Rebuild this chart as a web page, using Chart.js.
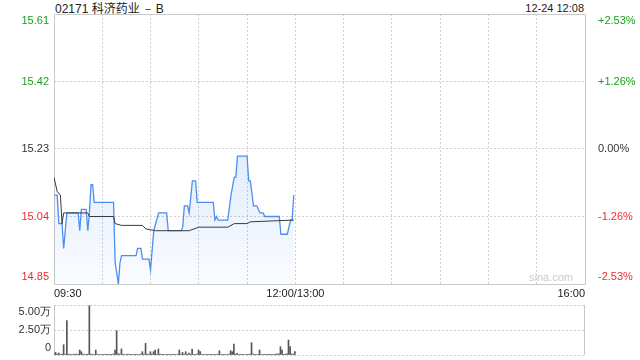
<!DOCTYPE html>
<html>
<head>
<meta charset="utf-8">
<script src="https://cdn.jsdelivr.net/npm/chart.js@4.4.1/dist/chart.umd.min.js"></script>
<style>
  body { margin: 0; background: #fff; width: 640px; height: 360px; overflow: hidden; position: relative;
         font-family: "Liberation Sans", Arial, sans-serif; }
  canvas { position: absolute; left: 0; }
  #price { top: 0; }
  #vol { top: 300px; }
  .hd { position: absolute; top: 0; line-height: 16px; color: #222; }
  .cjk { font-family: "Noto Sans CJK SC", sans-serif; }
  #wm { position: absolute; right: 67px; top: 271px; font-size: 11px; color: #ccc; }
</style>
</head>
<body>
<div class="hd" style="left:55px;font-size:12px">02171 <span class="cjk">科济药业</span><span style="margin:0 2px">－</span>B</div>
<div class="hd" style="right:56px;font-size:11px">12-24 12:08</div>
<div id="wm">sina.com</div>
<canvas id="price" width="640" height="300" style="width:640px;height:300px"></canvas>
<canvas id="vol" width="640" height="60" style="width:640px;height:60px"></canvas>
<script>
// minutes since 09:30 (lunch break removed), 0..330
const priceTimes = [0, 2, 3, 5, 6, 8, 15, 16, 17, 20, 21, 22, 23, 24, 25, 37, 38, 40, 41, 42,
  51, 52, 54, 55, 59, 60, 62, 65, 70, 71, 79, 80, 81, 83, 84, 86, 88, 89, 99, 100,
  101, 102, 108, 110, 112, 113, 114, 120, 121, 122, 124, 126, 128, 130, 131, 140, 141, 145, 147, 148, 149];
const prices = [15.10, 15.10, 15.02, 15.02, 14.95, 15.05, 15.05, 15.00, 15.06, 15.06, 15.00, 15.05, 15.13, 15.13, 15.08, 15.08, 14.91, 14.85, 14.91, 14.93,
  14.93, 14.95, 14.95, 14.92, 14.92, 14.89, 15.00, 15.05, 15.05, 15.00, 15.00, 15.01, 15.07, 15.07, 15.05, 15.14, 15.14, 15.08, 15.08, 15.03,
  15.04, 15.03, 15.03, 15.10, 15.15, 15.15, 15.21, 15.21, 15.14, 15.14, 15.07, 15.07, 15.05, 15.05, 15.04, 15.04, 14.99, 14.99, 15.03, 15.03, 15.10];

const avgTimes = [0, 2, 4, 5, 6, 21, 22, 37, 38, 42, 55, 57, 63, 84, 90, 108, 112, 120, 122, 149];
const avgPrices = [15.15, 15.11, 15.10, 15.02, 15.05, 15.05, 15.04, 15.04, 15.02, 15.015, 15.015, 15.005, 15.00, 15.00, 15.01, 15.01, 15.02, 15.02, 15.025, 15.03];

// volume per minute, t = 0..150
const volumes = [
  1200, 2600, 800, 2000, 600, 900, 10300, 700, 34300, 900,
  600, 500, 800, 700, 1000, 600, 5000, 3300, 900, 700,
  600, 800, 49300, 900, 700, 600, 5000, 800, 500, 700,
  600, 500, 800, 400, 600, 700, 500, 1000, 5000, 24300,
  1200, 800, 6000, 700, 600, 500, 800, 400, 600, 500,
  700, 400, 600, 500, 900, 3300, 800, 11600, 1000, 700,
  3300, 900, 3300, 5000, 700, 6000, 800, 600, 700, 500,
  600, 400, 700, 500, 600, 800, 500, 700, 5000, 800,
  2600, 700, 3300, 600, 2000, 900, 6000, 700, 500, 800,
  5000, 3300, 600, 500, 700, 400, 600, 500, 700, 400,
  600, 500, 800, 4300, 600, 400, 700, 500, 600, 900,
  4300, 3300, 11000, 800, 1600, 500, 700, 400, 600, 500,
  700, 600, 900, 12300, 800, 600, 500, 700, 5000, 600,
  500, 700, 400, 600, 800, 500, 600, 700, 900, 1000,
  1200, 8300, 5000, 700, 900, 1100, 15000, 8300, 1000, 900,
  3300
];

const prevClose = 15.23;
const priceTicks = [14.85, 15.04, 15.23, 15.42, 15.61];
const pctLabels = ['-2.53%', '-1.26%', '0.00%', '+1.26%', '+2.53%'];
const volTicks = [0, 25000, 50000];
const volLabels = ['0', '2.50万', '5.00万'];
const timeTicks = [0, 30, 60, 90, 120, 150, 180, 210, 240, 270, 300, 330];
const timeLabels = { 0: '09:30', 150: '12:00/13:00', 330: '16:00' };

const GREEN = '#1a9e1a', RED = '#ee2b2b', DARK = '#333';
const BLUE = '#4d8ef0';
const GRID = '#cfcfcf';
const FONT = { family: '"Liberation Sans", Arial, sans-serif', size: 11 };

function tickColor(ctx) {
  const v = priceTicks[ctx.index];
  if (v > prevClose) return GREEN;
  if (v < prevClose) return RED;
  return DARK;
}

// push the edge labels inside the plot like the original
function edgeLabel(text, i, n) {
  if (i === n - 1) return ['', text];
  if (i === 0) return [text, ''];
  return text;
}

function innerGrid(n) {
  return (ctx) => (ctx.index === 0 || ctx.index === n - 1) ? 'rgba(0,0,0,0)' : GRID;
}

const frame = {
  id: 'frame',
  beforeDatasetsDraw(chart, args, opts) {
    const { ctx, chartArea: a } = chart;
    ctx.save();
    ctx.strokeStyle = '#c8c8c8';
    ctx.lineWidth = 1;
    ctx.beginPath();
    if (opts.full) {
      ctx.rect(Math.round(a.left) + 0.5, Math.round(a.top) + 0.5, Math.round(a.right - a.left), Math.round(a.bottom - a.top));
    } else {
      ctx.moveTo(Math.round(a.left) + 0.5, a.top);
      ctx.lineTo(Math.round(a.left) + 0.5, a.bottom);
      ctx.moveTo(Math.round(a.right) + 0.5, a.top);
      ctx.lineTo(Math.round(a.right) + 0.5, a.bottom);
    }
    ctx.stroke();
    ctx.restore();
  }
};

new Chart(document.getElementById('price'), {
  type: 'line',
  data: {
    datasets: [
      {
        data: avgTimes.map((t, i) => ({ x: t, y: avgPrices[i] })),
        borderColor: '#3a3a3a',
        borderWidth: 1,
        pointRadius: 0,
        fill: false,
        yAxisID: 'y'
      },
      {
        data: priceTimes.map((t, i) => ({ x: t, y: prices[i] })),
        borderColor: BLUE,
        borderWidth: 1.3,
        pointRadius: 0,
        fill: 'start',
        backgroundColor: (c) => {
          const area = c.chart.chartArea;
          if (!area) return 'rgba(77,142,240,0.1)';
          const g = c.chart.ctx.createLinearGradient(0, area.top, 0, area.bottom);
          g.addColorStop(0, 'rgba(77,142,240,0.3)');
          g.addColorStop(1, 'rgba(77,142,240,0.03)');
          return g;
        },
        yAxisID: 'y'
      }
    ]
  },
  options: {
    responsive: false,
    animation: false,
    layout: { padding: { top: 14, left: 0, right: 0, bottom: 0 } },
    plugins: { legend: { display: false }, tooltip: { enabled: false }, frame: { full: true } },
    scales: {
      x: {
        type: 'linear',
        min: 0,
        max: 330,
        afterBuildTicks: (s) => { s.ticks = timeTicks.map(v => ({ value: v })); },
        afterFit: (s) => { s.height = 16; s.paddingLeft = 0; s.paddingRight = 0; },
        ticks: {
          autoSkip: false,
          maxRotation: 0,
          align: 'inner',
          padding: 3,
          color: '#222',
          font: FONT,
          callback: (v) => timeLabels[v] || ''
        },
        grid: { color: innerGrid(timeTicks.length), drawTicks: false },
        border: { display: false, dash: [2, 2] }
      },
      y: {
        position: 'left',
        min: 14.85,
        max: 15.61,
        afterBuildTicks: (s) => { s.ticks = priceTicks.map(v => ({ value: v })); },
        afterFit: (s) => { s.width = 54; s.paddingTop = 0; s.paddingBottom = 0; },
        ticks: {
          autoSkip: false,
          padding: 5,
          color: tickColor,
          font: FONT,
          callback: (v, i) => edgeLabel(v.toFixed(2), i, priceTicks.length)
        },
        grid: { color: innerGrid(priceTicks.length), drawTicks: false },
        border: { display: false, dash: [2, 2] }
      },
      y2: {
        position: 'right',
        min: 14.85,
        max: 15.61,
        afterBuildTicks: (s) => { s.ticks = priceTicks.map(v => ({ value: v })); },
        afterFit: (s) => { s.width = 55; s.paddingTop = 0; s.paddingBottom = 0; },
        ticks: {
          autoSkip: false,
          padding: 5,
          color: tickColor,
          font: FONT,
          callback: (v, i) => edgeLabel(pctLabels[i], i, pctLabels.length)
        },
        grid: { display: false },
        border: { display: false }
      }
    }
  },
  plugins: [frame]
});

new Chart(document.getElementById('vol'), {
  type: 'bar',
  data: {
    datasets: [{
      data: volumes.map((v, i) => ({ x: i, y: v })),
      backgroundColor: '#555',
      barThickness: 1
    }]
  },
  options: {
    responsive: false,
    animation: false,
    layout: { padding: { top: 5, bottom: 5, left: 0, right: 56 } },
    plugins: { legend: { display: false }, tooltip: { enabled: false }, frame: { full: false } },
    scales: {
      x: { type: 'linear', min: 0, max: 330, offset: false, display: false },
      y: {
        min: 0,
        max: 50000,
        afterBuildTicks: (s) => { s.ticks = volTicks.map(v => ({ value: v })); },
        afterFit: (s) => { s.width = 54; s.paddingTop = 0; s.paddingBottom = 0; },
        ticks: {
          autoSkip: false,
          padding: 3,
          color: DARK,
          font: FONT,
          callback: (v, i) => edgeLabel(volLabels[i], i, volLabels.length)
        },
        grid: { color: GRID, drawTicks: false },
        border: { display: false, dash: [2, 2] }
      }
    }
  },
  plugins: [frame]
});
</script>
</body>
</html>
